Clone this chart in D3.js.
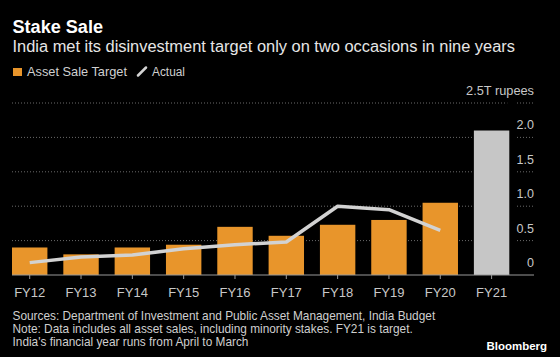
<!DOCTYPE html>
<html>
<head>
<meta charset="utf-8">
<script src="https://cdn.jsdelivr.net/npm/d3@7"></script>
<style>
  html, body { margin: 0; padding: 0; background: #000; }
  svg { display: block; }
  text { font-family: "Liberation Sans", Arial, sans-serif; }
</style>
</head>
<body>
<svg id="chart" width="560" height="357"></svg>
<script>
const categories = ["FY12","FY13","FY14","FY15","FY16","FY17","FY18","FY19","FY20","FY21"];
const targetValues = [0.40, 0.30, 0.40, 0.44, 0.70, 0.57, 0.73, 0.80, 1.05, 2.10];
const actualValues = [0.18, 0.26, 0.29, 0.38, 0.44, 0.48, 1.00, 0.95, 0.65];
const yTicks = [0, 0.5, 1.0, 1.5, 2.0, 2.5];
const yTickLabels = ["0", "0.5", "1.0", "1.5", "2.0", "2.5T rupees"];

const svg = d3.select("#chart");
const W = 560, H = 357;
svg.append("rect").attr("width", W).attr("height", H).attr("fill", "#000");

// scale a text's font size so its rendered width matches the reference width
function fit(sel, width) {
  const n = sel.node();
  const fs = parseFloat(sel.attr("font-size"));
  const w = n.getComputedTextLength();
  if (w > 0) sel.attr("font-size", (fs * width / w).toFixed(2));
  return sel;
}

const plotLeft = 12, plotRight = 509.3, axisRight = 534, labelLeft = 517;
const x = d3.scaleBand().domain(categories).range([plotLeft, plotRight]).paddingInner(0.31).paddingOuter(0);
const y = d3.scaleLinear().domain([0, 2.5]).range([275, 103]);

// Title, subtitle
fit(svg.append("text").attr("x", 12.5).attr("y", 33).attr("fill", "#fff")
  .attr("font-size", 16).attr("font-weight", "bold").text("Stake Sale"), 90.5);
fit(svg.append("text").attr("x", 12.5).attr("y", 52).attr("fill", "#e6e6e6")
  .attr("font-size", 15).text("India met its disinvestment target only on two occasions in nine years"), 503);

// Legend
svg.append("rect").attr("x", 13).attr("y", 68).attr("width", 9).attr("height", 8).attr("fill", "#e8952b");
fit(svg.append("text").attr("x", 27).attr("y", 76).attr("fill", "#d0d0d0").attr("font-size", 12.5).text("Asset Sale Target"), 100);
svg.append("line").attr("x1", 138).attr("y1", 75.5).attr("x2", 146).attr("y2", 67.5)
  .attr("stroke", "#d4d4d4").attr("stroke-width", 2.5).attr("stroke-linecap", "round");
fit(svg.append("text").attr("x", 152).attr("y", 76).attr("fill", "#d0d0d0").attr("font-size", 12.5).text("Actual"), 33);

// Gridlines
const grid = svg.append("g");
yTicks.filter(v => v > 0).forEach(v => {
  grid.append("line").attr("x1", plotLeft).attr("x2", plotRight - 2).attr("y1", y(v)).attr("y2", y(v))
    .attr("stroke", "#6a6a6a").attr("stroke-width", 1).attr("stroke-dasharray", "1,2");
  grid.append("line").attr("x1", labelLeft).attr("x2", axisRight).attr("y1", y(v)).attr("y2", y(v))
    .attr("stroke", "#6a6a6a").attr("stroke-width", 1).attr("stroke-dasharray", "1,2");
});

// Y labels
yTicks.forEach((v, i) => {
  const t = svg.append("text").attr("x", axisRight).attr("y", y(v) - 8).attr("text-anchor", "end")
    .attr("fill", "#c8c8c8").attr("font-size", 12.5).text(yTickLabels[i]);
  if (i === yTicks.length - 1) fit(t, 68);
});

// Bars
svg.append("g").selectAll("rect").data(categories).join("rect")
  .attr("x", d => x(d)).attr("width", x.bandwidth())
  .attr("y", (d, i) => y(targetValues[i])).attr("height", (d, i) => y(0) - y(targetValues[i]))
  .attr("fill", d => d === "FY21" ? "#c6c6c6" : "#e8952b");

// Baseline and x axis
const xAxis = d3.axisBottom(x).tickSize(4).tickPadding(9);
const gx = svg.append("g").attr("transform", `translate(0,${y(0)})`).call(xAxis);
gx.select(".domain").remove();
gx.selectAll(".tick line").attr("stroke", "#999");
gx.selectAll(".tick text").attr("fill", "#c8c8c8").attr("font-size", 13)
  .attr("font-family", "'Liberation Sans', Arial, sans-serif");
svg.append("line").attr("x1", plotLeft).attr("x2", axisRight).attr("y1", y(0)).attr("y2", y(0))
  .attr("stroke", "#999").attr("stroke-width", 1);

// Actual line
const line = d3.line().x((d, i) => x(categories[i]) + x.bandwidth() / 2).y(d => y(d));
svg.append("path").datum(actualValues).attr("d", line).attr("fill", "none")
  .attr("stroke", "#d2d2d2").attr("stroke-width", 3.5).attr("stroke-linejoin", "round");

// Footer
const foot = ["Sources: Department of Investment and Public Asset Management, India Budget",
  "Note: Data includes all asset sales, including minority stakes. FY21 is target.",
  "India's financial year runs from April to March"];
const footSel = foot.map((t, i) => svg.append("text").attr("x", 12.5).attr("y", 319.5 + i * 13).attr("fill", "#cfcfcf")
    .attr("font-size", 11.5).text(t));
const fw = footSel[0].node().getComputedTextLength();
footSel.forEach(s => s.attr("font-size", (11.5 * 423 / fw).toFixed(2)));
fit(svg.append("text").attr("x", 547).attr("y", 350).attr("text-anchor", "end").attr("fill", "#fff")
  .attr("font-size", 12.5).attr("font-weight", "bold").text("Bloomberg"), 60.5);
</script>
</body>
</html>
